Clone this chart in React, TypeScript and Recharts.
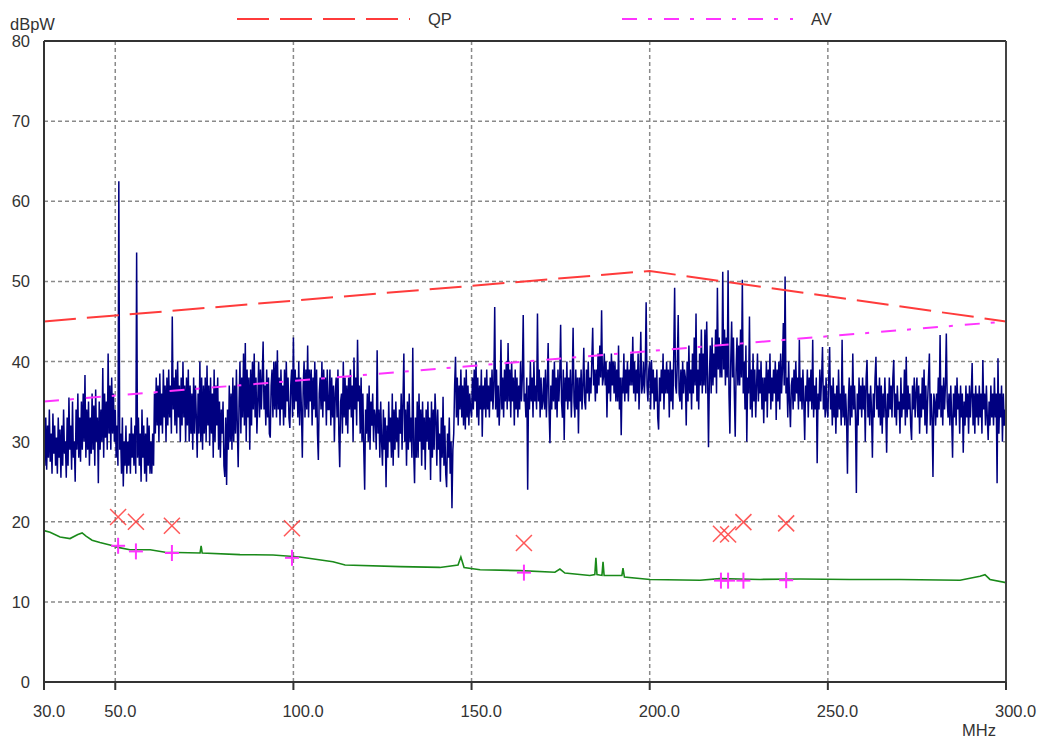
import React from "react";
import {
  ComposedChart,
  Line,
  Scatter,
  XAxis,
  YAxis,
  CartesianGrid,
  ReferenceLine,
} from "recharts";

// Frequency axis (MHz)
const xTicks = [30, 50, 100, 150, 200, 250, 300];
const yTicks = [0, 10, 20, 30, 40, 50, 60, 70, 80];

// Peak scan trace, 30.00 .. 300.00 MHz in 0.25 MHz steps (dBpW); one row = 5 MHz
const SCAN_START = 30;
const SCAN_STEP = 0.25;
const peakScan: number[] = [
  30, 27, 33, 26.5, 32, 28, 34, 27.5, 31, 26, 33.5, 28.5, 32, 27, 30.5, 26, 33, 28, 31.5, 25.5,
  32, 27, 34, 28.5, 30, 25.5, 33, 27, 35.5, 29, 32, 26.5, 35, 28, 30, 25, 34, 29, 36, 28,
  33, 27.5, 35, 29, 36, 30, 38.3, 28, 34, 29, 35, 27, 33, 28.5, 36, 29, 34.5, 27, 36.5, 30,
  33, 24.8, 35, 29, 34, 30, 39.2, 28, 36, 30.5, 35, 29, 41, 31, 37, 29, 38, 31, 36, 30,
  34, 28, 32, 27, 62.5, 29, 31, 26, 33, 24.4, 30, 27, 32, 26, 30, 27, 31, 26, 33, 28,
  31, 27, 32, 26, 53.6, 28, 33, 27, 31, 25, 34, 28, 32, 26, 31, 25, 33, 27, 32, 26,
  30, 26, 31, 27, 36, 31, 38, 32, 37, 30, 38.5, 32, 36, 31, 39, 33, 37, 30, 38, 32,
  39, 33, 37, 31, 45.6, 34, 38, 32, 39, 31, 40, 33, 37, 30, 38, 32, 40, 33, 37, 30,
  38, 32, 39, 30, 37, 31, 36, 29, 38, 31, 37, 33, 28, 36, 31, 40, 30, 38, 29, 37,
  31, 38, 30, 39.5, 32, 37, 29.5, 38, 31, 36, 28, 39, 30, 37, 32, 38, 29, 35, 28, 34,
  31, 35, 27, 25.6, 33, 24.6, 34, 29, 37, 30, 36, 29, 38, 30, 37, 31, 39, 32, 26.8, 35,
  40, 31, 38, 33, 41, 32, 42.3, 30, 39, 33, 38, 29, 39, 32, 40, 34, 41, 33, 38, 31,
  35, 40, 33, 39, 34, 38, 42.5, 34, 37, 32, 39, 33, 38, 31, 30.5, 37, 39, 33, 40, 34,
  40, 33, 41.4, 34, 38, 32, 39, 34, 37, 32, 39, 33, 40, 35, 38, 33, 31.7, 37, 39, 33,
  43, 34, 39, 35, 38, 33, 40, 32, 38, 34, 28, 37, 40, 33, 39, 34, 42, 33, 39, 35,
  39, 32, 38, 34, 40, 33, 39, 31, 27.7, 36, 38, 34, 40, 33, 39, 35, 38, 32, 39, 34,
  34, 39, 32, 38, 33, 37, 30, 36, 38, 33, 39, 31, 26.8, 35, 36, 31, 40, 33, 38, 32,
  37, 31, 38, 34, 39, 33, 37, 30, 40.5, 34, 38, 32, 42.7, 35, 37, 31, 38, 30, 36, 29,
  24, 34, 31, 36, 30, 37, 29, 35, 32, 36, 30, 34, 33, 29, 41.4, 31, 34, 28, 35, 30,
  27, 34, 29, 33, 24.3, 32, 28, 35, 30, 33, 28, 36, 27, 34, 29, 35, 30, 33, 28, 34,
  31, 36, 29, 35, 41, 30, 34, 27, 35, 29, 36, 30, 33, 28, 41.7, 29, 24.8, 33, 28, 35,
  28, 36, 30, 34, 27, 35, 29, 33, 26.5, 34, 30, 35, 29, 33, 25.2, 35, 28, 34, 29, 36,
  33, 27, 34, 29, 31, 25, 33, 28, 35.6, 27, 32, 26, 24.3, 31, 28, 33, 26, 30, 21.7, 29,
  31, 37, 40.6, 33, 38, 32, 37, 34, 39, 33, 37, 32, 38, 31.5, 39, 33, 37, 32, 36, 34,
  33, 38, 34, 39, 35, 40, 33, 38, 32, 37, 34, 39, 30.6, 37, 34, 38, 33, 39, 34, 37,
  33, 38, 35, 39, 34, 37, 46.8, 34, 39, 33, 37, 32, 35, 42.7, 34, 38, 33, 39, 35, 40,
  34, 42.3, 35, 39, 33, 40, 35, 38, 32, 39, 34, 38, 33, 37, 34, 40, 35, 38, 45.8, 35,
  36, 33, 38, 24, 37, 34, 40, 35, 38, 33, 40, 35, 37, 34, 46, 35, 39, 33, 38, 34,
  35, 38, 34, 39, 33, 37, 42.3, 34, 29.8, 37, 34, 39, 35, 40, 34, 38, 33, 39, 35, 38,
  44.6, 35, 33, 39, 30.2, 38, 35, 40, 34, 38, 35, 39, 33, 37, 44.2, 35, 33, 39, 34, 38,
  31, 38, 35, 39, 34, 37, 41.7, 35, 34, 39, 36, 40, 35, 38, 36, 40, 44.2, 37, 39, 35,
  39, 36, 41, 37, 42, 38, 46.4, 37, 38, 41, 37, 40, 33, 39, 36, 40, 35, 41, 37, 40,
  36, 40, 35, 39, 35, 42, 34, 38, 30.8, 38, 36, 41, 35, 39, 36, 40, 35, 39, 37, 41,
  37, 43.1, 36, 40, 35, 39, 36, 41, 34, 38, 43.7, 36, 37, 40, 36, 39, 47.4, 37, 35, 39,
  40, 34, 40.2, 36, 39, 34, 38, 35, 39, 33, 31.5, 38, 35, 39, 36, 41, 34, 39, 36, 40,
  36, 39, 33, 40, 35, 39, 34, 41, 49.2, 37, 36, 40, 45.8, 36, 35, 39, 34, 40, 36, 39,
  38, 32, 40, 35, 42, 36, 39, 34, 41, 36, 43, 37, 46, 35, 39, 34, 41, 37, 44, 36,
  41, 37, 44, 36, 45, 38, 29.3, 38, 42, 36, 43, 37, 41, 38, 44, 36, 49.2, 39, 43, 38,
  42, 38, 51.2, 39, 44, 37, 43, 38, 51.4, 36, 31, 40, 45, 38, 43, 36, 30.6, 39, 43, 37,
  42, 37, 44, 38, 50.2, 36, 40, 34, 42, 30, 38, 36, 45.6, 34, 39, 33, 41, 35, 39, 33,
  37, 41, 35, 39, 36, 40, 34, 38, 32.3, 38, 35, 40, 33, 39, 36, 41, 34, 38, 35, 39,
  36, 40, 32.7, 39, 35, 40, 34, 41, 36, 39, 44.8, 37, 50.6, 36, 38, 33, 40, 35, 31.8, 37,
  38, 34, 39, 35, 40, 36, 38, 34, 42.7, 35, 38, 34, 39, 35, 30.2, 37, 35, 39, 33, 38,
  35, 39, 34, 42.7, 33, 37, 34, 38, 27.3, 36, 34, 39, 35, 38, 41.8, 34, 37, 33, 38, 34,
  33, 38, 41.8, 34, 37, 32, 38, 33, 36, 31, 37, 33, 39, 34, 36, 32, 42.7, 33, 37, 32,
  36, 33, 26, 35, 38, 32, 37, 33, 41, 34, 37, 33, 23.6, 36, 32, 38, 34, 37, 33, 38,
  34, 37, 30, 38, 40.2, 33, 36, 32, 37, 34, 28, 36, 33, 38, 40.6, 34, 37, 33, 38, 32,
  37, 31, 36, 33, 38, 34, 28.6, 36, 33, 38, 34, 37, 33, 38, 40.2, 33, 36, 32, 37, 34,
  35, 31, 38, 33, 36, 34, 39, 32, 40.6, 33, 37, 34, 36, 32, 30.2, 37, 34, 38, 33, 36,
  38, 33, 37, 31, 36, 33, 38, 34, 39, 32, 37, 31, 35, 38, 41, 32, 36, 33, 25.6, 36,
  35, 32, 36, 33, 38, 34, 43.3, 33, 37, 32, 38, 34, 37, 43.5, 35, 33, 36, 32, 37, 33,
  28, 36, 33, 37, 32, 38, 34, 36, 31, 37, 33, 36, 28.6, 35, 32, 37, 33, 36, 31, 37,
  33, 36, 39.8, 32, 36, 31, 37, 33, 36, 32, 37, 33, 36, 31, 40.2, 34, 36, 32, 37, 33,
  30.2, 35, 32, 37, 33, 36, 32, 38, 33, 36, 24.8, 40.4, 31, 36, 33, 37, 30, 36, 32, 34,
  33,
];

// Average scan trace (frequency MHz, level dBpW)
const avScanFreq: number[] = [
  30, 31.7, 34.5, 37.3, 39.5, 40.7, 41.8, 43.5, 45.7, 48.5, 50.8, 54.1, 59.8, 64, 73.8, 74.1,
  74.4, 85, 94.3, 101.8, 111.1, 114.5, 130, 141.1, 146.2, 147, 147.9, 152.4, 163.6, 173.4,
  174.8, 176.2, 183.2, 184.6, 184.9, 185.2, 186.6, 186.9, 187.2, 192.2, 192.5, 192.9, 200.1,
  214.1, 219.7, 231, 242.2, 256.2, 270.2, 287.1, 292.7, 294.1, 295.5, 300,
];
const avScanLevel: number[] = [
  18.9, 18.7, 18.1, 17.9, 18.4, 18.6, 18.2, 17.7, 17.4, 17.1, 16.8, 16.5, 16.5, 16.2, 16.1, 17.0,
  16.1, 15.9, 15.85, 15.6, 15.0, 14.6, 14.4, 14.3, 14.6, 15.6, 14.3, 14.0, 13.9, 13.7,
  14.1, 13.6, 13.3, 13.4, 15.5, 13.4, 13.3, 15.0, 13.3, 13.3, 14.2, 13.1, 12.8,
  12.7, 12.9, 12.8, 12.85, 12.8, 12.8, 12.7, 13.2, 13.4, 12.8, 12.4,
];

// Limit lines
const qpLimitFreq: number[] = [30, 200, 300];
const qpLimitLevel: number[] = [45, 51.3, 45];
const avLimitFreq: number[] = [30, 300];
const avLimitLevel: number[] = [35, 45];

// Final measurement markers
const markFreq: number[] = [50.8, 55.8, 65.9, 99.6, 164.7, 220.0, 222.0, 226.3, 238.3];
const qpMarkLevel: number[] = [20.6, 20.0, 19.5, 19.2, 17.35, 18.5, 18.4, 19.95, 19.8];
const avMarkLevel: number[] = [17.0, 16.3, 16.1, 15.5, 13.65, 12.65, 12.65, 12.65, 12.7];

const scanData = peakScan.map((v, i) => ({ f: SCAN_START + i * SCAN_STEP, v }));
const avScanData = avScanFreq.map((f, i) => ({ f, v: avScanLevel[i] }));
const qpLimitData = qpLimitFreq.map((f, i) => ({ f, v: qpLimitLevel[i] }));
const avLimitData = avLimitFreq.map((f, i) => ({ f, v: avLimitLevel[i] }));
const qpMarkData = markFreq.map((f, i) => ({ f, v: qpMarkLevel[i] }));
const avMarkData = markFreq.map((f, i) => ({ f, v: avMarkLevel[i] }));

const FONT = "'Liberation Sans', Arial, sans-serif";
const TEXT_COLOR = "#333";
const QP_COLOR = "#ff3b3b";
const AV_COLOR = "#ff33ff";

const XTick = (props: any) => {
  const { x, y, payload } = props;
  return (
    <text x={x - 11} y={y + 25} fontFamily={FONT} fontSize={16.5} fill={TEXT_COLOR} textAnchor="start">
      {Number(payload.value).toFixed(1)}
    </text>
  );
};

const YTick = (props: any) => {
  const { y, payload } = props;
  return (
    <text x={30} y={y + 6} fontFamily={FONT} fontSize={16.5} fill={TEXT_COLOR} textAnchor="end">
      {payload.value}
    </text>
  );
};

const XMark = (props: any) => {
  const { cx, cy } = props;
  const s = 8;
  return (
    <g stroke={QP_COLOR} strokeWidth={1.5} opacity={0.85}>
      <line x1={cx - s} y1={cy - s} x2={cx + s} y2={cy + s} />
      <line x1={cx - s} y1={cy + s} x2={cx + s} y2={cy - s} />
    </g>
  );
};

const PlusMark = (props: any) => {
  const { cx, cy } = props;
  return (
    <g stroke={AV_COLOR} strokeWidth={2}>
      <line x1={cx - 7} y1={cy} x2={cx + 7} y2={cy} />
      <line x1={cx} y1={cy - 8} x2={cx} y2={cy + 8} />
    </g>
  );
};

export default function App() {
  return (
    <div style={{ position: "absolute", left: 0, top: 0, width: 1038, height: 738, background: "#fff" }}>
      <ComposedChart
        width={1038}
        height={738}
        margin={{ top: 41, right: 32, bottom: 26, left: 0 }}
      >
        <CartesianGrid stroke="#8a8a8a" strokeDasharray="4 3" strokeWidth={1.5} />
        <XAxis
          type="number"
          dataKey="f"
          domain={[30, 300]}
          ticks={xTicks}
          interval={0}
          allowDataOverflow
          height={30}
          axisLine={{ stroke: "#333", strokeWidth: 2 }}
          tickLine={{ stroke: "#333", strokeWidth: 2 }}
          tickSize={8}
          tick={<XTick />}
        />
        <YAxis
          type="number"
          dataKey="v"
          domain={[0, 80]}
          ticks={yTicks}
          interval={0}
          allowDataOverflow
          width={44}
          axisLine={{ stroke: "#333", strokeWidth: 2 }}
          tickLine={false}
          tick={<YTick />}
        />
        <Line
          data={scanData}
          dataKey="v"
          stroke="#000080"
          strokeWidth={1.5}
          dot={false}
          activeDot={false}
          isAnimationActive={false}
        />
        <Line
          data={avScanData}
          dataKey="v"
          stroke="#1a8a1a"
          strokeWidth={1.6}
          dot={false}
          activeDot={false}
          isAnimationActive={false}
        />
        <Line
          data={qpLimitData}
          dataKey="v"
          stroke={QP_COLOR}
          strokeWidth={2}
          strokeDasharray="32 11"
          dot={false}
          activeDot={false}
          isAnimationActive={false}
        />
        <Line
          data={avLimitData}
          dataKey="v"
          stroke={AV_COLOR}
          strokeWidth={2}
          strokeDasharray="15 11 4 12"
          dot={false}
          activeDot={false}
          isAnimationActive={false}
        />
        <Scatter data={qpMarkData} dataKey="v" shape={<XMark />} isAnimationActive={false} />
        <Scatter data={avMarkData} dataKey="v" shape={<PlusMark />} isAnimationActive={false} />
        <ReferenceLine y={80} stroke="#333" strokeWidth={2} />
        <ReferenceLine x={300} stroke="#444" strokeWidth={2} />
      </ComposedChart>
      <svg
        width={1038}
        height={738}
        style={{ position: "absolute", left: 0, top: 0, pointerEvents: "none" }}
      >
        <text x={10} y={30} fontFamily={FONT} fontSize={16.5} fill={TEXT_COLOR}>dBpW</text>
        <text x={962} y={736} fontFamily={FONT} fontSize={16.5} fill={TEXT_COLOR}>MHz</text>
        <line x1={237} y1={19} x2={410} y2={19} stroke={QP_COLOR} strokeWidth={2} strokeDasharray="32 11" />
        <text x={428} y={25} fontFamily={FONT} fontSize={16.5} fill={TEXT_COLOR}>QP</text>
        <line x1={622} y1={19} x2={793} y2={19} stroke={AV_COLOR} strokeWidth={2} strokeDasharray="15 11 4 12" />
        <text x={811} y={25} fontFamily={FONT} fontSize={16.5} fill={TEXT_COLOR}>AV</text>
      </svg>
    </div>
  );
}
